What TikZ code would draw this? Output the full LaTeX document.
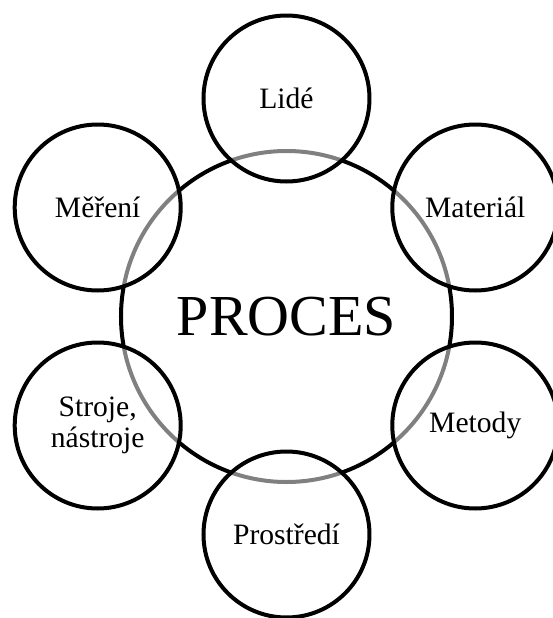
\documentclass[tikz,border=0pt]{standalone}
\usepackage{fontspec}
\setmainfont{Liberation Serif}

\tikzset{
	proces/.style={circle, draw, line width=2pt, minimum size=165.5pt, inner sep=0pt,
		font=\fontsize{29}{32}\selectfont},
	factor/.style={circle, draw, line width=2pt, minimum size=83pt, inner sep=0pt,
		fill=white, fill opacity=.5, text opacity=1, align=center,
		font=\fontsize{14.8}{15.2}\selectfont}
}

\begin{document}
\begin{tikzpicture}
	\useasboundingbox (-143.25pt,-150.75pt) rectangle (133.25pt,158.25pt);
	\node[proces] (proces) at (0,0) {PROCES};
	\node[factor] (lide) at (90:109pt) {Lidé};
	\node[factor] (material) at (30:109pt) {Materiál};
	\node[factor] (metody) at (-30:109pt) {Metody};
	\node[factor] (prostredi) at (-90:109pt) {Prostředí};
	\node[factor] (stroje) at (210:109pt) {Stroje,\\nástroje};
	\node[factor] (mereni) at (150:109pt) {Měření};
\end{tikzpicture}
\end{document}
